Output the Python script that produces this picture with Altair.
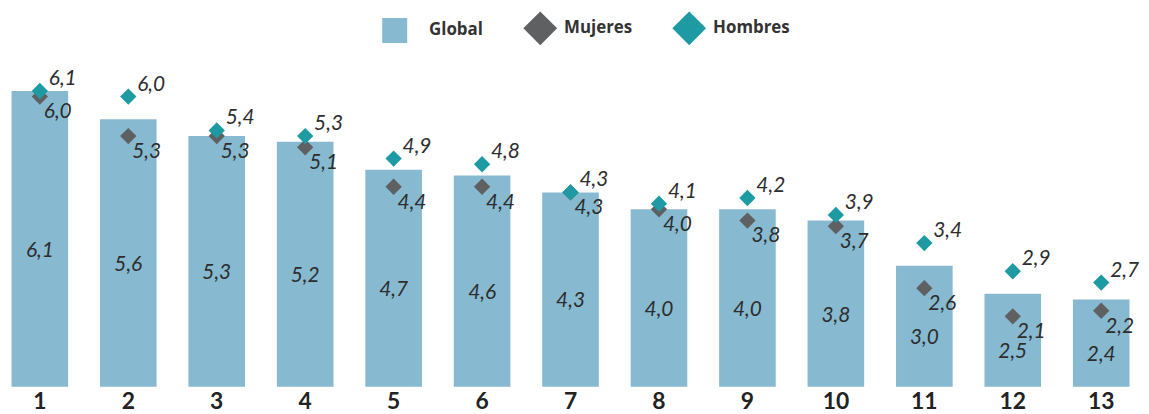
import altair as alt
import pandas as pd

categorias = [str(i) for i in range(1, 14)]
global_vals = [6.1, 5.6, 5.3, 5.2, 4.7, 4.6, 4.3, 4.0, 4.0, 3.8, 3.0, 2.5, 2.4]
mujeres_vals = [6.0, 5.3, 5.3, 5.1, 4.4, 4.4, 4.3, 4.0, 3.8, 3.7, 2.6, 2.1, 2.2]
hombres_vals = [6.1, 6.0, 5.4, 5.3, 4.9, 4.8, 4.3, 4.1, 4.2, 3.9, 3.4, 2.9, 2.7]
series = ["Global", "Mujeres", "Hombres"]
colores = ["#87BAD0", "#5E6062", "#1E9AA2"]

Y_MIN, Y_MAX = 0.85, 6.93
FONT = "Lato"
TXT = "#2d2d2d"

df_bar = pd.DataFrame({"cat": categorias, "valor": global_vals, "serie": "Global"})
df_pts = pd.concat([
    pd.DataFrame({"cat": categorias, "valor": mujeres_vals, "serie": "Mujeres"}),
    pd.DataFrame({"cat": categorias, "valor": hombres_vals, "serie": "Hombres"}),
], ignore_index=True)

square_path = "M-1.36,-0.74H0.12V0.74H-1.36Z"

x = alt.X("cat:N", sort=categorias,
          scale=alt.Scale(paddingInner=0.36, paddingOuter=0.04),
          axis=alt.Axis(title=None, labelAngle=0, ticks=False, domain=False,
                        labelFontSize=23, labelFontWeight="bold", labelFont=FONT,
                        labelColor="#222222", labelPadding=4))
yscale = alt.Scale(domain=[Y_MIN, Y_MAX], zero=False, clamp=True, nice=False)

legend = alt.Legend(title=None, orient="none", legendX=383, legendY=-33,
                    direction="horizontal", symbolSize=1156, symbolStrokeWidth=0,
                    labelFont="Open Sans", labelFontSize=17, labelFontWeight="bold",
                    labelColor="#333333", labelOffset=7, columnPadding=40,
                    symbolOpacity=1)
color = alt.Color("serie:N", scale=alt.Scale(domain=series, range=colores), legend=legend)
shape = alt.Shape("serie:N", scale=alt.Scale(domain=series, range=[square_path, "diamond", "diamond"]),
                  legend=legend)

base_bar = alt.Chart(df_bar).transform_calculate(
    lab="replace(format(datum.valor, '.1f'), '.', ',')",
    pos=f"(datum.valor + {Y_MIN}) / 2",
)

bars = base_bar.mark_bar().encode(
    x=x,
    y=alt.Y("valor:Q", scale=yscale, axis=None),
    color=color,
)

bar_text = base_bar.mark_text(font=FONT, fontSize=21, fontStyle="italic", color=TXT, dy=12).encode(
    x=x,
    y=alt.Y("pos:Q", scale=yscale, axis=None),
    text="lab:N",
)

base_pts = alt.Chart(df_pts).transform_calculate(
    lab="replace(format(datum.valor, '.1f'), '.', ',')",
)

points = base_pts.mark_point(filled=True, size=270, opacity=1).encode(
    x=x,
    y=alt.Y("valor:Q", scale=yscale, axis=None),
    color=color,
    shape=shape,
)

text_h = base_pts.transform_filter("datum.serie == 'Hombres'").mark_text(
    font=FONT, fontSize=21, fontStyle="italic", color=TXT, align="left", dx=9, dy=-12
).encode(x=x, y=alt.Y("valor:Q", scale=yscale, axis=None), text="lab:N")

text_m = base_pts.transform_filter("datum.serie == 'Mujeres'").mark_text(
    font=FONT, fontSize=21, fontStyle="italic", color=TXT, align="left", dx=4, dy=16
).encode(x=x, y=alt.Y("valor:Q", scale=yscale, axis=None), text="lab:N")

chart = alt.layer(bars, bar_text, points, text_m, text_h).properties(
    width=1133, height=345, background="white",
    autosize=alt.AutoSizeParams(type="none"),
    padding={"left": 0, "top": 35, "right": 8, "bottom": 34},
).configure_view(stroke=None)

chart.save("out.html", embed_options={"renderer": "svg", "actions": False})
